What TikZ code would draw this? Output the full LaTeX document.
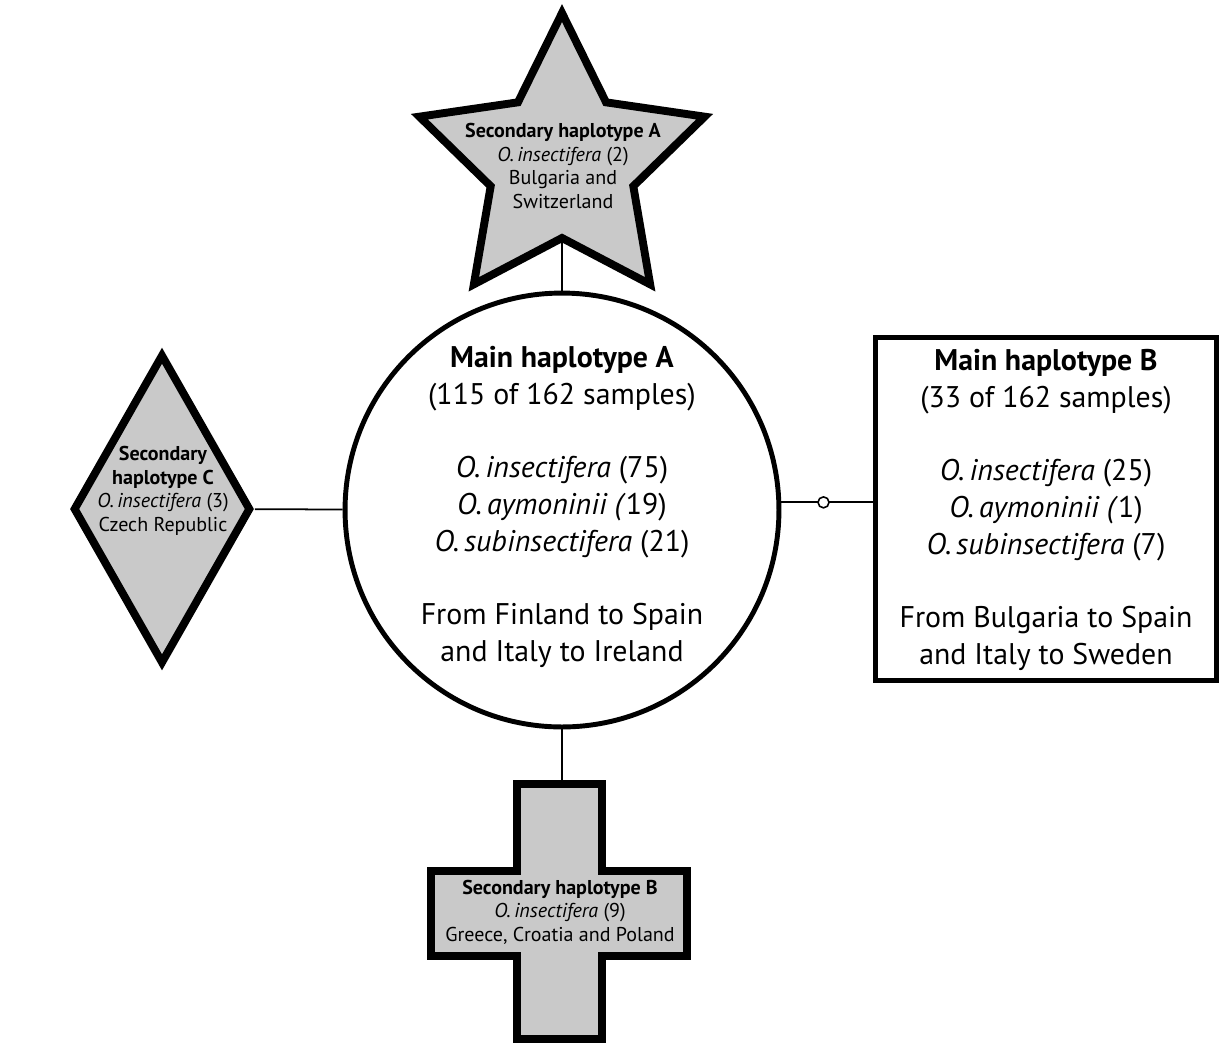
\documentclass[tikz,border=0pt]{standalone}
\usepackage{fontspec}
\setmainfont{PT Sans}
\usetikzlibrary{shapes.geometric,calc}

\begin{document}
\begin{tikzpicture}[x=0.02cm, y=-0.02cm,
  main/.style={draw, line width=2.8pt, fill=white, inner sep=0pt},
  second/.style={draw, line width=4.5pt, fill=black!21, inner sep=0pt},
  bigtext/.style={align=center, font=\fontsize{17}{20.9}\selectfont},
  smalltext/.style={align=center, font=\fontsize{11.4}{13.4}\selectfont},
  link/.style={line width=1pt},
  tick/.style={draw, circle, line width=0.9pt, fill=white, minimum size=0.22cm, inner sep=0pt}
]
\useasboundingbox (0,0) rectangle (1221,1046);

% main haplotypes
\node[main, circle, minimum size=8.68cm] (mainA) at (562,510) {};
\node[main, minimum width=6.82cm, minimum height=6.86cm] (mainB) at (1046,509) {};

% secondary haplotypes
\node[second, star, star points=5, star point ratio=2.0, minimum size=6.0cm] (secA) at (562,163) {};
\node[second, diamond, minimum width=3.56cm, minimum height=6.2cm] (secC) at (162,509) {};
\draw[second] (517,784) -- (602,784) -- (602,871) -- (687,871) -- (687,956) -- (602,956)
  -- (602,1039) -- (517,1039) -- (517,956) -- (431,956) -- (431,871) -- (517,871) -- cycle;
\coordinate (secB) at (562,780);

% connectors
\draw[link] (secA) -- (mainA);
\draw[link] (mainA) -- (secB);
\draw[link] (secC) -- (mainA);
\draw[link] (mainA.2.6) -- node[tick, pos=0.46] {} (mainA.2.6 -| mainB.west);

% labels
\node[bigtext] (mainAtxt) at (562,507) {\textbf{Main haplotype A}\\ (115 of 162 samples)\\[20.9pt]
  \textit{O.\,insectifera} (75)\\ \textit{O.\,aymoninii (}19)\\ \textit{O.\,subinsectifera} (21)\\[20.9pt]
  From Finland to Spain\\ and Italy to Ireland};
\node[bigtext] (mainBtxt) at (1046,510) {\textbf{Main haplotype B}\\ (33 of 162 samples)\\[20.9pt]
  \textit{O.\,insectifera} (25)\\ \textit{O.\,aymoninii (}1)\\ \textit{O.\,subinsectifera} (7)\\[20.9pt]
  From Bulgaria to Spain\\ and Italy to Sweden};
\node[smalltext] (secAtxt) at (563,166) {\textbf{Secondary haplotype A}\\ \textit{O.\,insectifera} (2)\\
  Bulgaria and\\ Switzerland};
\node[smalltext] (secBtxt) at (560,912) {\textbf{Secondary haplotype B}\\ \textit{O.\,insectifera} (9)\\
  Greece, Croatia and Poland};
\node[smalltext] (secCtxt) at (163,491) {\textbf{Secondary}\\ \textbf{haplotype C}\\ \textit{O.\,insectifera} (3)\\
  Czech Republic};
\end{tikzpicture}
\end{document}
